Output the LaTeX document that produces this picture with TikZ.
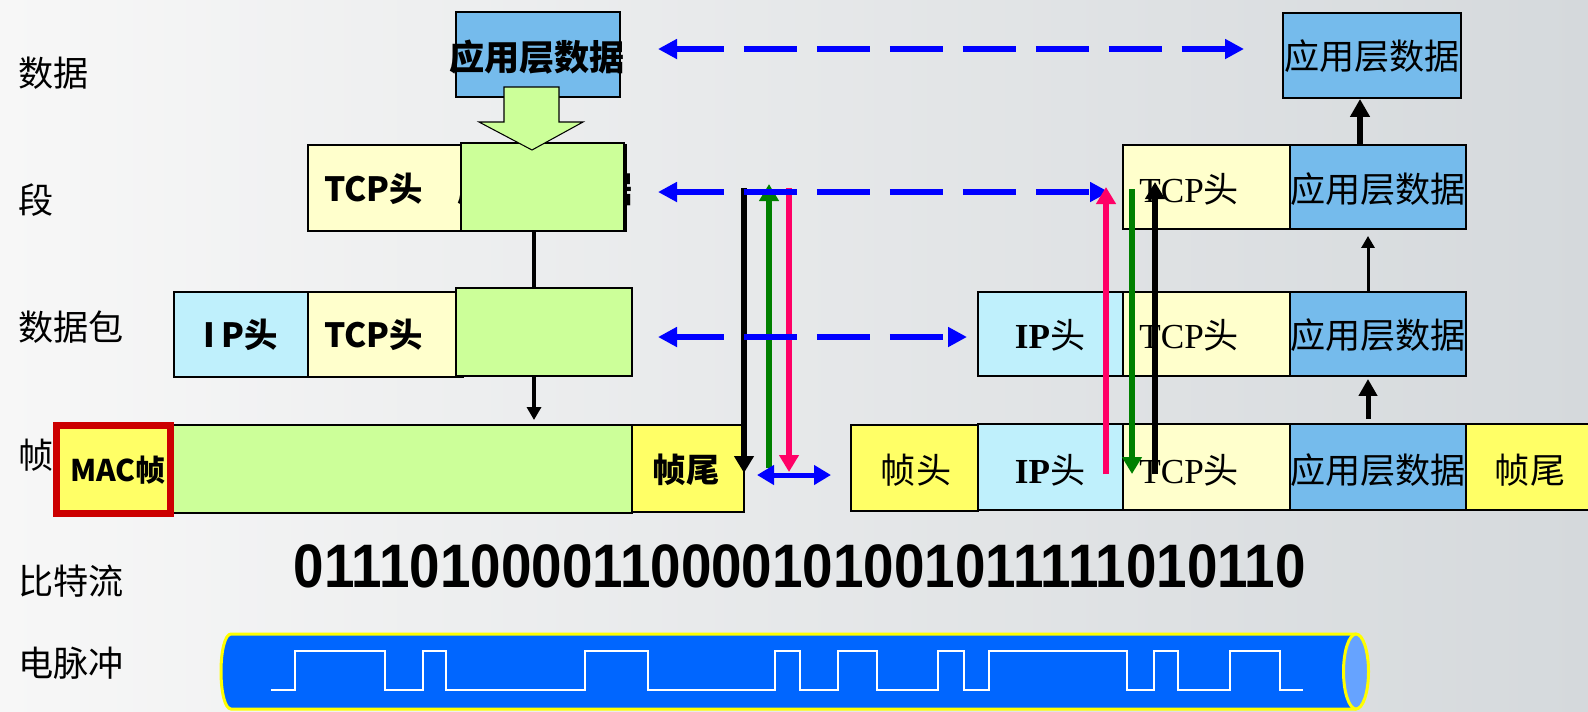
\documentclass[tikz,border=0pt]{standalone}
\usepackage{fontspec}
\setmainfont{Liberation Serif}
\newfontfamily\cjk{Noto Sans CJK SC}
\newfontfamily\serf{Liberation Serif}
\newfontfamily\sansf{Liberation Sans}
\usetikzlibrary{fit,arrows.meta}
\definecolor{appblue}{RGB}{117,187,236}
\definecolor{tcpy}{RGB}{255,255,204}
\definecolor{ipc}{RGB}{191,240,252}
\definecolor{grn}{RGB}{204,255,153}
\definecolor{fry}{RGB}{255,255,102}
\definecolor{macred}{RGB}{204,0,0}
\definecolor{pinkr}{RGB}{255,0,102}
\definecolor{dgreen}{RGB}{0,128,0}
\definecolor{cable}{RGB}{0,102,255}
\definecolor{cableend}{RGB}{102,163,255}
\definecolor{cyell}{RGB}{255,255,0}
\definecolor{bgl}{RGB}{247,247,247}
\definecolor{bgr}{RGB}{213,217,220}
\begin{document}
\begin{tikzpicture}[x=0.02cm,y=-0.02cm,
  box/.style={draw=black,line width=1.1pt,inner sep=0pt},
  lbl/.style={font=\cjk\fontsize{20pt}{23pt}\selectfont,inner sep=0pt,anchor=west},
  bt/.style={font=\cjk\bfseries\fontsize{19pt}{23pt}\selectfont,inner sep=0pt},
  st/.style={font=\cjk\fontsize{20pt}{24pt}\selectfont,inner sep=0pt},
  dasharr/.style={draw=blue,line width=0.12cm,dash pattern=on 1.06cm off 0.4cm,dash phase=0.1cm,
    {Triangle[length=0.38cm,width=0.38cm]}-{Triangle[length=0.38cm,width=0.38cm]}},
  varr/.style={line width=0.11cm,-{Triangle[length=0.34cm,width=0.38cm]}},
  blk/.style={line width=0.08cm}]
\useasboundingbox (0,0) rectangle (1588,711);
\shade[left color=bgl,right color=bgr] (0,0) rectangle (1588,711);

% row labels
\node[lbl] (l1) at (18,73) {数据};
\node[lbl] (l2) at (18,200) {段};
\node[lbl] (l3) at (18,327) {数据包};
\node[lbl] (l4) at (18,455) {帧};
\node[lbl] (l5) at (18,581) {比特流};
\node[lbl] (l6) at (18,663) {电脉冲};

% left: application data
\node[box,fill=appblue,fit={(456,12)(620,97)}] (tl) {};
\node[bt,font=\cjk\bfseries\fontsize{20pt}{24pt}\selectfont] (tlt) at (537,57) {应用层数据};

% left: segment
\node[box,fill=tcpy,fit={(308,145)(461,231)}] (lst) {};
\node[bt,anchor=west] (lstt) at (324,189) {TCP头};
\node[box,fit={(461,145)(626,231)}] (lsa) {};
\node[bt,font=\cjk\bfseries\fontsize{20pt}{24pt}\selectfont] (lsat) at (545,189) {应用层数据};
\node[box,fill=grn,fit={(461,143)(624,231)}] (lsg) {};
\draw[fill=grn,line width=0.6pt] (504,87) -- (559,87) -- (559,122) -- (583,122) -- (532,150) -- (479,122) -- (504,122) -- cycle;

% left: packet
\node[box,fill=ipc,fit={(174,292)(308,377)}] (lpi) {};
\node[bt] (lpit) at (241,335) {I\hspace{0.2em}P头};
\node[box,fill=tcpy,fit={(308,292)(463,377)}] (lpt) {};
\node[bt,anchor=west] (lptt) at (324,335) {TCP头};
\node[box,fill=grn,fit={(456,288)(632,376)}] (lpg) {};

% left: frame
\node[box,fill=grn,fit={(173,425)(632,513)}] (lfg) {};
\node[box,fill=fry,fit={(632,425)(744,512)}] (lft) {};
\node[bt] (lftt) at (686,470) {帧尾};
\node[draw=macred,line width=0.14cm,fill=fry,inner sep=0pt,fit={(56.5,425.5)(170.5,513.5)}] (mac) {};
\node[bt,font=\cjk\bfseries\fontsize{17pt}{20pt}\selectfont] (mact) at (118,470) {MAC帧};

% left black connectors
\draw[blk] (534,0 |- lsg.south) -- (534,0 |- lpg.north);
\draw[blk,-{Triangle[length=0.26cm,width=0.28cm]},shorten >=0.08cm] (534,0 |- lpg.south) -- (534,0 |- lfg.north);

% middle vertical arrows
\coordinate (mb1) at (744,188); \coordinate (mb2) at (744,473);
\coordinate (mg1) at (769,468); \coordinate (mg2) at (769,184);
\coordinate (mp1) at (789,188); \coordinate (mp2) at (789,472);
\coordinate (bx1) at (757,475); \coordinate (bx2) at (831,475);
\draw[varr,black] (mb1) -- (mb2);
\draw[varr,dgreen] (mg1) -- (mg2);
\draw[varr,pinkr] (mp1) -- (mp2);
\draw[draw=blue,line width=0.1cm,{Triangle[length=0.34cm,width=0.38cm]}-{Triangle[length=0.34cm,width=0.38cm]},blue] (bx1) -- (bx2);

% right boxes
\node[box,fill=appblue,fit={(1283,13)(1461,98)}] (rt) {};
\node[st] (rtt) at (1372,56) {应用层数据};

\node[box,fill=tcpy,fit={(1123,145)(1290,229)}] (rst) {};
\node[st,anchor=west] (rstt) at (1139,189) {{\serf TCP}头};
\node[box,fill=appblue,fit={(1290,145)(1466,229)}] (rsa) {};
\node[st] (rsat) at (1378,189) {应用层数据};

\node[box,fill=ipc,fit={(978,292)(1123,376)}] (rpi) {};
\node[st] (rpit) at (1050,335) {{\serf\bfseries IP}头};
\node[box,fill=tcpy,fit={(1123,292)(1290,376)}] (rpt) {};
\node[st,anchor=west] (rptt) at (1139,335) {{\serf TCP}头};
\node[box,fill=appblue,fit={(1290,292)(1466,376)}] (rpa) {};
\node[st] (rpat) at (1378,335) {应用层数据};

\node[box,fill=fry,fit={(851,425)(978,511)}] (rfh) {};
\node[st] (rfht) at (916,470) {帧头};
\node[box,fill=ipc,fit={(978,424)(1123,510)}] (rfi) {};
\node[st] (rfit) at (1050,470) {{\serf\bfseries IP}头};
\node[box,fill=tcpy,fit={(1123,424)(1290,510)}] (rft) {};
\node[st,anchor=west] (rftt) at (1139,470) {{\serf TCP}头};
\node[box,fill=appblue,fit={(1290,424)(1466,510)}] (rfa) {};
\node[st] (rfat) at (1378,470) {应用层数据};
\node[box,fill=fry,fit={(1466,424)(1590,510)}] (rfe) {};
\node[st] (rfet) at (1530,470) {帧尾};

% right layer arrows
\draw[line width=0.12cm,-{Triangle[length=0.36cm,width=0.38cm]}] (1360,0 |- rsa.north) -- (1360,0 |- rt.south);
\draw[line width=0.06cm,-{Triangle[length=0.24cm,width=0.26cm]},shorten >=0.12cm] (1368,0 |- rpa.north) -- (1368,0 |- rsa.south);
\draw[line width=0.1cm,-{Triangle[length=0.34cm,width=0.36cm]},shorten <=0.08cm,shorten >=0.04cm] (1368,0 |- rfa.north) -- (1368,0 |- rpa.south);

% blue dashed peer arrows
\coordinate (d1a) at (658,49); \coordinate (d1b) at (1244,49);
\coordinate (d2a) at (658,192); \coordinate (d2b) at (1109,192);
\coordinate (d3a) at (658,337); \coordinate (d3b) at (967,337);
\draw[dasharr] (d1a) -- (d1b);
\draw[dasharr] (d2a) -- (d2b);
\draw[dasharr] (d3a) -- (d3b);

% right vertical arrows
\coordinate (rp1) at (1106,474); \coordinate (rp2) at (1106,187);
\coordinate (rg1) at (1132,189); \coordinate (rg2) at (1132,474);
\coordinate (rb1) at (1155,474); \coordinate (rb2) at (1155,182);
\draw[varr,pinkr] (rp1) -- (rp2);
\draw[varr,dgreen] (rg1) -- (rg2);
\draw[varr,black] (rb1) -- (rb2);

% bit stream
\node[inner sep=0pt,font=\sansf\bfseries\fontsize{31.2pt}{36pt}\selectfont] (bits) at (800,566) {\scalebox{1}[1.12]{0111010000110000101001011111010110}};

% cable
\fill[cable] (231,634) -- (1356,634) -- (1356,709) -- (231,709)
  .. controls (225,709) and (221,692) .. (221,671.5)
  .. controls (221,651) and (225,634) .. (231,634) -- cycle;
\draw[cyell,line width=0.06cm] (1356,634) -- (231,634)
  .. controls (225,634) and (221,651) .. (221,671.5)
  .. controls (221,692) and (225,709) .. (231,709) -- (1356,709);
\draw[cyell,line width=0.06cm,fill=cableend] (1356,671.5) ellipse [x radius=0.25cm,y radius=0.75cm];
\draw[white,line width=0.05cm] (271,690) -- (295,690) -- (295,651) -- (385,651) -- (385,690)
  -- (423,690) -- (423,651) -- (446,651) -- (446,690)
  -- (585,690) -- (585,651) -- (648,651) -- (648,690)
  -- (775,690) -- (775,651) -- (800,651) -- (800,690)
  -- (838,690) -- (838,651) -- (877,651) -- (877,690)
  -- (938,690) -- (938,651) -- (964,651) -- (964,690)
  -- (989,690) -- (989,651) -- (1127,651) -- (1127,690)
  -- (1154,690) -- (1154,651) -- (1178,651) -- (1178,690)
  -- (1230,690) -- (1230,651) -- (1280,651) -- (1280,690) -- (1303,690);
\end{tikzpicture}
\end{document}
